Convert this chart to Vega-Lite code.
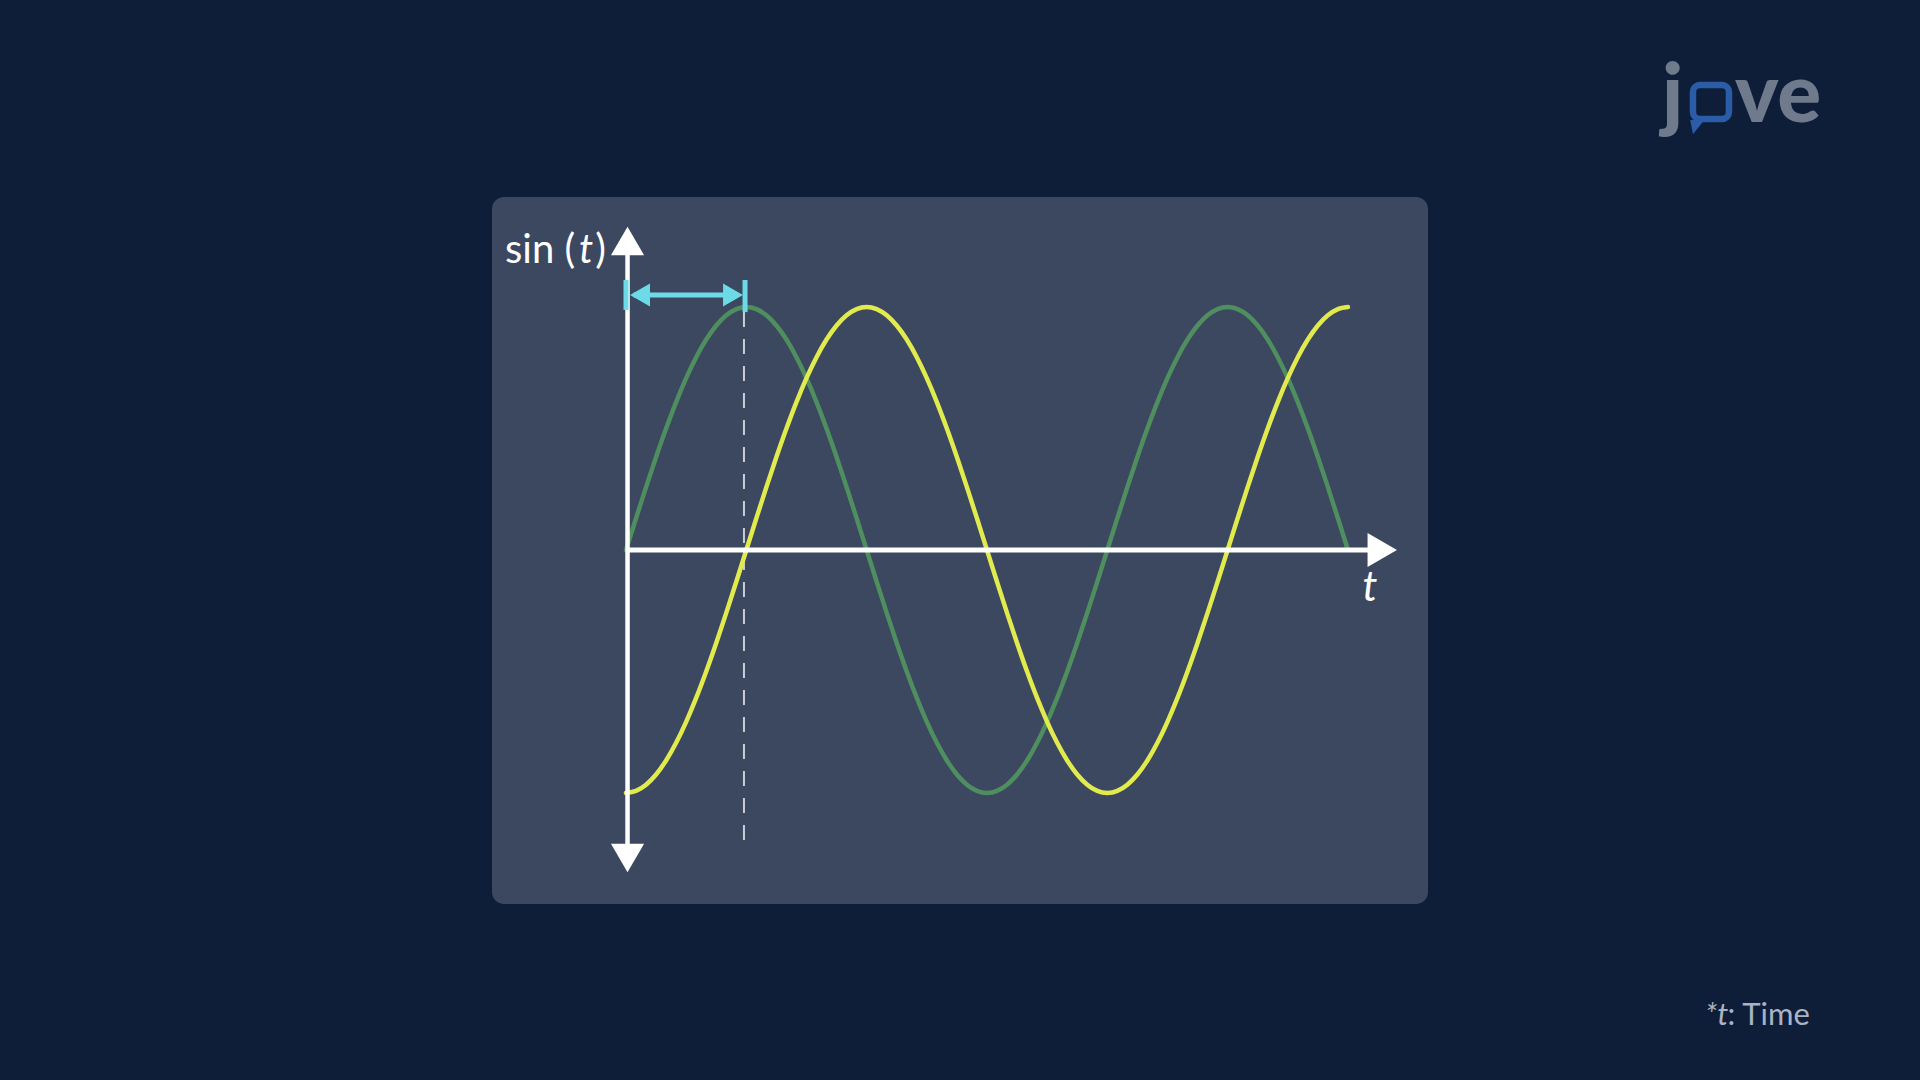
{
  "$schema": "https://vega.github.io/schema/vega-lite/v6.json",
  "width": 1920,
  "height": 1080,
  "autosize": {"type": "fit", "contains": "padding"},
  "padding": 0,
  "background": "#0e1d38",
  "config": {"view": {"stroke": null}, "text": {"font": "Lato"}},
  "datasets": {
    "one": [{}],
    "curves": [
      {"t":0,"v":0,"s":"sin"},{"t":0.1309,"v":0.1305,"s":"sin"},{"t":0.2618,"v":0.2588,"s":"sin"},{"t":0.3927,"v":0.3827,"s":"sin"},{"t":0.5236,"v":0.5,"s":"sin"},{"t":0.6545,"v":0.6088,"s":"sin"},{"t":0.7854,"v":0.7071,"s":"sin"},{"t":0.9163,"v":0.7934,"s":"sin"},{"t":1.0472,"v":0.866,"s":"sin"},{"t":1.1781,"v":0.9239,"s":"sin"},{"t":1.309,"v":0.9659,"s":"sin"},{"t":1.4399,"v":0.9914,"s":"sin"},{"t":1.5708,"v":1,"s":"sin"},
      {"t":1.7017,"v":0.9914,"s":"sin"},{"t":1.8326,"v":0.9659,"s":"sin"},{"t":1.9635,"v":0.9239,"s":"sin"},{"t":2.0944,"v":0.866,"s":"sin"},{"t":2.2253,"v":0.7934,"s":"sin"},{"t":2.3562,"v":0.7071,"s":"sin"},{"t":2.4871,"v":0.6088,"s":"sin"},{"t":2.618,"v":0.5,"s":"sin"},{"t":2.7489,"v":0.3827,"s":"sin"},{"t":2.8798,"v":0.2588,"s":"sin"},{"t":3.0107,"v":0.1305,"s":"sin"},{"t":3.1416,"v":0,"s":"sin"},
      {"t":3.2725,"v":-0.1305,"s":"sin"},{"t":3.4034,"v":-0.2588,"s":"sin"},{"t":3.5343,"v":-0.3827,"s":"sin"},{"t":3.6652,"v":-0.5,"s":"sin"},{"t":3.7961,"v":-0.6088,"s":"sin"},{"t":3.927,"v":-0.7071,"s":"sin"},{"t":4.0579,"v":-0.7934,"s":"sin"},{"t":4.1888,"v":-0.866,"s":"sin"},{"t":4.3197,"v":-0.9239,"s":"sin"},{"t":4.4506,"v":-0.9659,"s":"sin"},{"t":4.5815,"v":-0.9914,"s":"sin"},{"t":4.7124,"v":-1,"s":"sin"},
      {"t":4.8433,"v":-0.9914,"s":"sin"},{"t":4.9742,"v":-0.9659,"s":"sin"},{"t":5.1051,"v":-0.9239,"s":"sin"},{"t":5.236,"v":-0.866,"s":"sin"},{"t":5.3669,"v":-0.7934,"s":"sin"},{"t":5.4978,"v":-0.7071,"s":"sin"},{"t":5.6287,"v":-0.6088,"s":"sin"},{"t":5.7596,"v":-0.5,"s":"sin"},{"t":5.8905,"v":-0.3827,"s":"sin"},{"t":6.0214,"v":-0.2588,"s":"sin"},{"t":6.1523,"v":-0.1305,"s":"sin"},{"t":6.2832,"v":0,"s":"sin"},
      {"t":6.4141,"v":0.1305,"s":"sin"},{"t":6.545,"v":0.2588,"s":"sin"},{"t":6.6759,"v":0.3827,"s":"sin"},{"t":6.8068,"v":0.5,"s":"sin"},{"t":6.9377,"v":0.6088,"s":"sin"},{"t":7.0686,"v":0.7071,"s":"sin"},{"t":7.1995,"v":0.7934,"s":"sin"},{"t":7.3304,"v":0.866,"s":"sin"},{"t":7.4613,"v":0.9239,"s":"sin"},{"t":7.5922,"v":0.9659,"s":"sin"},{"t":7.7231,"v":0.9914,"s":"sin"},{"t":7.854,"v":1,"s":"sin"},
      {"t":7.9849,"v":0.9914,"s":"sin"},{"t":8.1158,"v":0.9659,"s":"sin"},{"t":8.2467,"v":0.9239,"s":"sin"},{"t":8.3776,"v":0.866,"s":"sin"},{"t":8.5085,"v":0.7934,"s":"sin"},{"t":8.6394,"v":0.7071,"s":"sin"},{"t":8.7703,"v":0.6088,"s":"sin"},{"t":8.9012,"v":0.5,"s":"sin"},{"t":9.0321,"v":0.3827,"s":"sin"},{"t":9.163,"v":0.2588,"s":"sin"},{"t":9.2939,"v":0.1305,"s":"sin"},{"t":9.4248,"v":0,"s":"sin"},
      {"t":0,"v":-1,"s":"shift"},{"t":0.1309,"v":-0.9914,"s":"shift"},{"t":0.2618,"v":-0.9659,"s":"shift"},{"t":0.3927,"v":-0.9239,"s":"shift"},{"t":0.5236,"v":-0.866,"s":"shift"},{"t":0.6545,"v":-0.7934,"s":"shift"},{"t":0.7854,"v":-0.7071,"s":"shift"},{"t":0.9163,"v":-0.6088,"s":"shift"},{"t":1.0472,"v":-0.5,"s":"shift"},{"t":1.1781,"v":-0.3827,"s":"shift"},{"t":1.309,"v":-0.2588,"s":"shift"},{"t":1.4399,"v":-0.1305,"s":"shift"},{"t":1.5708,"v":0,"s":"shift"},
      {"t":1.7017,"v":0.1305,"s":"shift"},{"t":1.8326,"v":0.2588,"s":"shift"},{"t":1.9635,"v":0.3827,"s":"shift"},{"t":2.0944,"v":0.5,"s":"shift"},{"t":2.2253,"v":0.6088,"s":"shift"},{"t":2.3562,"v":0.7071,"s":"shift"},{"t":2.4871,"v":0.7934,"s":"shift"},{"t":2.618,"v":0.866,"s":"shift"},{"t":2.7489,"v":0.9239,"s":"shift"},{"t":2.8798,"v":0.9659,"s":"shift"},{"t":3.0107,"v":0.9914,"s":"shift"},{"t":3.1416,"v":1,"s":"shift"},
      {"t":3.2725,"v":0.9914,"s":"shift"},{"t":3.4034,"v":0.9659,"s":"shift"},{"t":3.5343,"v":0.9239,"s":"shift"},{"t":3.6652,"v":0.866,"s":"shift"},{"t":3.7961,"v":0.7934,"s":"shift"},{"t":3.927,"v":0.7071,"s":"shift"},{"t":4.0579,"v":0.6088,"s":"shift"},{"t":4.1888,"v":0.5,"s":"shift"},{"t":4.3197,"v":0.3827,"s":"shift"},{"t":4.4506,"v":0.2588,"s":"shift"},{"t":4.5815,"v":0.1305,"s":"shift"},{"t":4.7124,"v":0,"s":"shift"},
      {"t":4.8433,"v":-0.1305,"s":"shift"},{"t":4.9742,"v":-0.2588,"s":"shift"},{"t":5.1051,"v":-0.3827,"s":"shift"},{"t":5.236,"v":-0.5,"s":"shift"},{"t":5.3669,"v":-0.6088,"s":"shift"},{"t":5.4978,"v":-0.7071,"s":"shift"},{"t":5.6287,"v":-0.7934,"s":"shift"},{"t":5.7596,"v":-0.866,"s":"shift"},{"t":5.8905,"v":-0.9239,"s":"shift"},{"t":6.0214,"v":-0.9659,"s":"shift"},{"t":6.1523,"v":-0.9914,"s":"shift"},{"t":6.2832,"v":-1,"s":"shift"},
      {"t":6.4141,"v":-0.9914,"s":"shift"},{"t":6.545,"v":-0.9659,"s":"shift"},{"t":6.6759,"v":-0.9239,"s":"shift"},{"t":6.8068,"v":-0.866,"s":"shift"},{"t":6.9377,"v":-0.7934,"s":"shift"},{"t":7.0686,"v":-0.7071,"s":"shift"},{"t":7.1995,"v":-0.6088,"s":"shift"},{"t":7.3304,"v":-0.5,"s":"shift"},{"t":7.4613,"v":-0.3827,"s":"shift"},{"t":7.5922,"v":-0.2588,"s":"shift"},{"t":7.7231,"v":-0.1305,"s":"shift"},{"t":7.854,"v":0,"s":"shift"},
      {"t":7.9849,"v":0.1305,"s":"shift"},{"t":8.1158,"v":0.2588,"s":"shift"},{"t":8.2467,"v":0.3827,"s":"shift"},{"t":8.3776,"v":0.5,"s":"shift"},{"t":8.5085,"v":0.6088,"s":"shift"},{"t":8.6394,"v":0.7071,"s":"shift"},{"t":8.7703,"v":0.7934,"s":"shift"},{"t":8.9012,"v":0.866,"s":"shift"},{"t":9.0321,"v":0.9239,"s":"shift"},{"t":9.163,"v":0.9659,"s":"shift"},{"t":9.2939,"v":0.9914,"s":"shift"},{"t":9.4248,"v":1,"s":"shift"}
    ]
  },
  "layer": [
    {
      "data": {"name": "one"},
      "mark": {"type": "rect", "color": "#3b4860", "cornerRadius": 12},
      "encoding": {
        "x": {"datum": -1.7493, "type": "quantitative", "scale": {"domain": [-8.1723, 16.893], "nice": false, "zero": false}, "axis": null},
        "x2": {"datum": 10.47},
        "y": {"datum": 1.4527, "type": "quantitative", "scale": {"domain": [-2.18107, 2.26337], "nice": false, "zero": false}, "axis": null},
        "y2": {"datum": -1.4568}
      }
    },
    {
      "data": {"name": "one"},
      "mark": {"type": "rule", "color": "#c9ced6", "strokeWidth": 2, "strokeDash": [15, 12]},
      "encoding": {"x": {"datum": 1.54}, "y": {"datum": 0.979}, "y2": {"datum": -1.214}}
    },
    {
      "data": {"name": "curves"},
      "mark": {"type": "line", "strokeWidth": 4.5, "strokeCap": "round", "interpolate": "monotone"},
      "encoding": {
        "x": {"field": "t", "type": "quantitative"},
        "y": {"field": "v", "type": "quantitative"},
        "color": {"field": "s", "type": "nominal", "scale": {"domain": ["sin", "shift"], "range": ["#4f8e5f", "#e2eb4e"]}, "legend": null}
      }
    },
    {
      "data": {"name": "one"},
      "mark": {"type": "rule", "color": "#ffffff", "strokeWidth": 4.5},
      "encoding": {"x": {"datum": 0.02}, "y": {"datum": 1.25}, "y2": {"datum": -1.25}}
    },
    {
      "data": {"name": "one"},
      "mark": {"type": "rule", "color": "#ffffff", "strokeWidth": 5},
      "encoding": {"y": {"datum": 0}, "x": {"datum": 0.02}, "x2": {"datum": 9.75}}
    },
    {
      "data": {"name": "one"},
      "mark": {"type": "point", "shape": "triangle-up", "filled": true, "color": "#ffffff", "opacity": 1, "size": 1100},
      "encoding": {"x": {"datum": 0.02}, "y": {"datum": 1.2716}}
    },
    {
      "data": {"name": "one"},
      "mark": {"type": "point", "shape": "triangle-down", "filled": true, "color": "#ffffff", "opacity": 1, "size": 1100},
      "encoding": {"x": {"datum": 0.02}, "y": {"datum": -1.2675}}
    },
    {
      "data": {"name": "one"},
      "mark": {"type": "point", "shape": "triangle-right", "filled": true, "color": "#ffffff", "opacity": 1, "size": 1150},
      "encoding": {"x": {"datum": 9.873}, "y": {"datum": 0}}
    },
    {
      "data": {"name": "one"},
      "mark": {"type": "rule", "color": "#6cdbe7", "strokeWidth": 5},
      "encoding": {"y": {"datum": 1.049}, "x": {"datum": 0.1}, "x2": {"datum": 1.45}}
    },
    {
      "data": {"name": "one"},
      "mark": {"type": "rule", "color": "#6cdbe7", "strokeWidth": 5},
      "encoding": {"x": {"datum": 0}, "y": {"datum": 1.111}, "y2": {"datum": 0.988}}
    },
    {
      "data": {"name": "one"},
      "mark": {"type": "rule", "color": "#6cdbe7", "strokeWidth": 5},
      "encoding": {"x": {"datum": 1.554}, "y": {"datum": 1.111}, "y2": {"datum": 0.979}}
    },
    {
      "data": {"name": "one"},
      "mark": {"type": "point", "shape": "triangle-left", "filled": true, "color": "#6cdbe7", "opacity": 1, "size": 529},
      "encoding": {"x": {"datum": 0.183}, "y": {"datum": 1.049}}
    },
    {
      "data": {"name": "one"},
      "mark": {"type": "point", "shape": "triangle-right", "filled": true, "color": "#6cdbe7", "opacity": 1, "size": 529},
      "encoding": {"x": {"datum": 1.397}, "y": {"datum": 1.049}}
    },
    {
      "data": {"name": "one"},
      "mark": {"type": "text", "text": "sin (", "align": "left", "baseline": "alphabetic", "fontSize": 40, "color": "#ffffff"},
      "encoding": {"x": {"datum": -1.5796}, "y": {"datum": 1.181}}
    },
    {
      "data": {"name": "one"},
      "mark": {"type": "text", "text": "t", "align": "center", "baseline": "alphabetic", "fontSize": 40, "fontStyle": "italic", "color": "#ffffff"},
      "encoding": {"x": {"datum": -0.5222}, "y": {"datum": 1.181}}
    },
    {
      "data": {"name": "one"},
      "mark": {"type": "text", "text": ")", "align": "right", "baseline": "alphabetic", "fontSize": 40, "color": "#ffffff"},
      "encoding": {"x": {"datum": -0.2611}, "y": {"datum": 1.181}}
    },
    {
      "data": {"name": "one"},
      "mark": {"type": "text", "text": "t", "align": "center", "baseline": "alphabetic", "fontSize": 42, "fontStyle": "italic", "color": "#ffffff"},
      "encoding": {"x": {"datum": 9.713}, "y": {"datum": -0.2099}}
    },
    {
      "data": {"name": "one"},
      "mark": {"type": "text", "text": "*t", "align": "left", "baseline": "alphabetic", "fontSize": 31, "fontStyle": "italic", "color": "#a9b3c4"},
      "encoding": {"x": {"datum": 14.086}, "y": {"datum": -1.9547}}
    },
    {
      "data": {"name": "one"},
      "mark": {"type": "text", "text": ": Time", "align": "left", "baseline": "alphabetic", "fontSize": 31, "color": "#a9b3c4"},
      "encoding": {"x": {"datum": 14.38}, "y": {"datum": -1.9547}}
    },
    {
      "data": {"name": "one"},
      "mark": {"type": "text", "text": "j", "align": "left", "baseline": "alphabetic", "fontSize": 82, "fontWeight": 900, "color": "#6f7a8d"},
      "encoding": {"x": {"datum": 13.525}, "y": {"datum": 1.7613}}
    },
    {
      "data": {"name": "one"},
      "mark": {"type": "text", "text": "ve", "align": "left", "baseline": "alphabetic", "fontSize": 82, "fontWeight": 900, "color": "#6f7a8d"},
      "encoding": {"x": {"datum": 14.478}, "y": {"datum": 1.7613}}
    },
    {
      "data": {"name": "one"},
      "mark": {"type": "rect", "fill": null, "fillOpacity": 0, "stroke": "#2b5ca8", "strokeWidth": 6.5, "cornerRadius": 7},
      "encoding": {"x": {"datum": 13.929}, "x2": {"datum": 14.399}, "y": {"datum": 1.9136}, "y2": {"datum": 1.7737}}
    },
    {
      "data": {"name": "one"},
      "mark": {"type": "point", "shape": "M-1,-1L1,-1L-0.6,1Z", "filled": true, "color": "#2b5ca8", "opacity": 1, "size": 200},
      "encoding": {"x": {"datum": 13.985}, "y": {"datum": 1.74}}
    }
  ]
}
